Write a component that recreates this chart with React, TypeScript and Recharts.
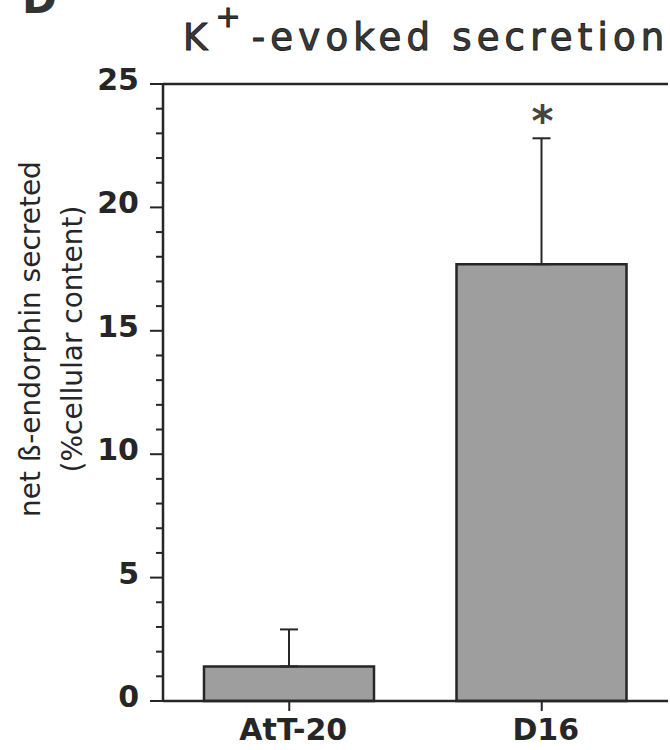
import React from 'react';
import {
  BarChart,
  Bar,
  XAxis,
  YAxis,
  ErrorBar,
  LabelList,
  ReferenceLine,
} from 'recharts';

// values
const categories = ['AtT-20', 'D16'];
const means = [1.4, 17.7];
const errors = [1.5, 5.1];
const marks = ['', '*'];
const yTicks = [0, 1, 2, 3, 4, 5, 6, 7, 8, 9, 10, 11, 12, 13, 14, 15, 16, 17, 18, 19, 20, 21, 22, 23, 24, 25];
const yLabelLines = ['net ß-endorphin secreted', '(%cellular content)'];

const INK = '#262626';
const FONT = '"DejaVu Sans", Verdana, sans-serif';

const data = categories.map((name, i) => ({
  name,
  value: means[i],
  err: [0, errors[i]],
  mark: marks[i],
}));

const YTick = (props: any) => {
  const { x, y, payload } = props;
  const major = payload.value % 5 === 0;
  return (
    <g>
      <line x1={x - (major ? 13 : 7)} x2={x} y1={y} y2={y} stroke={INK} strokeWidth={2} />
      {major && (
        <text
          x={x - 24}
          y={y + 6}
          textAnchor="end"
          fontFamily={FONT}
          fontWeight="bold"
          fontSize={30}
          fill={INK}
        >
          {payload.value}
        </text>
      )}
    </g>
  );
};

const XTick = (props: any) => {
  const { x, y, payload } = props;
  return (
    <text
      x={x + 4}
      y={y + 29}
      textAnchor="middle"
      fontFamily={FONT}
      fontWeight="bold"
      fontSize={30}
      fill={INK}
    >
      {payload.value}
    </text>
  );
};

const YLabel = () => (
  <g fontFamily={FONT} fontSize={28} fill={INK}>
    {yLabelLines.map((line, i) => (
      <text
        key={line}
        x={0}
        y={0}
        textAnchor="middle"
        transform={`translate(${40 + i * 42}, 339) rotate(-90)`}
      >
        {line}
      </text>
    ))}
  </g>
);

// asterisk sits just above the error bar cap
const MarkLabel = (props: any) => {
  const { x, y, width, height, value } = props;
  const i = categories.indexOf(value);
  if (i < 0 || !marks[i]) return null;
  const perUnit = height / means[i];
  const top = y - errors[i] * perUnit;
  return (
    <text
      x={x + width / 2 + 1}
      y={top - 2}
      textAnchor="middle"
      fontFamily={FONT}
      fontWeight="bold"
      fontSize={42}
      fill="#444"
    >
      {marks[i]}
    </text>
  );
};

export default function App() {
  return (
    <div style={{ position: 'absolute', left: 0, top: 0, width: 670, height: 750, background: '#fff' }}>
      <div
        style={{
          position: 'absolute',
          left: 22,
          top: -26,
          fontFamily: FONT,
          fontWeight: 'bold',
          fontSize: 42,
          color: '#333',
        }}
      >
        D
      </div>
      <div
        style={{
          position: 'absolute',
          left: 183,
          top: 16,
          lineHeight: '44px',
          fontFamily: FONT,
          fontSize: 37,
          letterSpacing: 5.2,
          color: '#3a3a3a',
          WebkitTextStroke: '1px #222',
          whiteSpace: 'nowrap',
        }}
      >
        K
        <span
          style={{
            display: 'inline-block',
            lineHeight: '26px',
            fontSize: 30,
            verticalAlign: 'top',
            margin: '-12px 6px 0 3px',
          }}
        >
          +
        </span>
        -evoked secretion
      </div>
      <BarChart
        width={670}
        height={750}
        data={data}
        margin={{ top: 84, right: 2, bottom: 0, left: 0 }}
        barSize={170}
      >
        <XAxis
          dataKey="name"
          height={49}
          axisLine={{ stroke: INK, strokeWidth: 2.5 }}
          tickLine={{ stroke: INK, strokeWidth: 2 }}
          tickSize={10}
          tickMargin={0}
          tick={<XTick />}
          interval={0}
        />
        <YAxis
          width={163}
          domain={[0, 25]}
          ticks={yTicks}
          interval={0}
          axisLine={{ stroke: INK, strokeWidth: 2.5 }}
          tickLine={false}
          tickSize={0}
          tickMargin={0}
          tick={<YTick />}
          label={{ content: () => <YLabel /> }}
        />
        <YAxis
          yAxisId="frame"
          orientation="right"
          width={0}
          domain={[0, 25]}
          tick={false}
          tickLine={false}
          axisLine={{ stroke: INK, strokeWidth: 2 }}
        />
        <ReferenceLine y={25} stroke={INK} strokeWidth={2.5} />
        <Bar
          dataKey="value"
          fill="#9e9e9e"
          stroke={INK}
          strokeWidth={2.5}
          isAnimationActive={false}
        >
          <ErrorBar dataKey="err" width={9} stroke={INK} strokeWidth={2} />
          <LabelList dataKey="name" content={<MarkLabel />} />
        </Bar>
      </BarChart>
    </div>
  );
}
